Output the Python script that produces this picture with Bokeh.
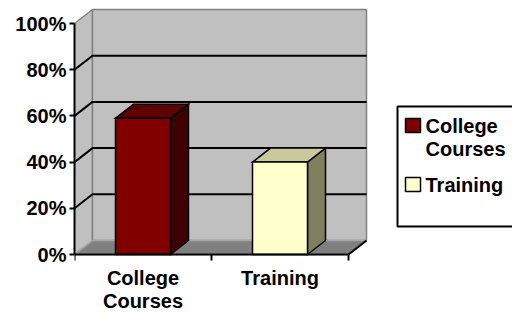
from bokeh.plotting import figure
from bokeh.models import Range1d, FixedTicker
from bokeh.core.properties import value
from bokeh.embed import file_html
from bokeh.resources import INLINE

# ---- data ----
categories = ["College\nCourses", "Training"]
values = [59, 40]
front_colors = ["#800000", "#ffffcc"]
top_colors = ["#5e0000", "#c9c99d"]
side_colors = ["#3e0000", "#80805f"]
y_ticks = [0, 20, 40, 60, 80, 100]
y_tick_labels = ["0%", "20%", "40%", "60%", "80%", "100%"]
legend_labels = ["College\nCourses", "Training"]

# ---- layout constants (pixels) ----
W, H = 512, 313
LEFT = 74          # frame left inside the figure
PX_X = 137.0       # pixels per category
PX_Y = 2.31        # pixels per percent
BASE_PX = 254      # distance figure top -> 0% line
FONT = value("Liberation Sans")
FS = "20px"


def dx(px):
    return px / PX_X


def dy(px):
    return px / PX_Y


def X(img_px):
    return (img_px - LEFT) / PX_X


def Y(img_py):
    return (BASE_PX - img_py) / PX_Y


p = figure(width=W, height=H,
           x_range=Range1d(0, (W - LEFT) / PX_X),
           y_range=Range1d(-(H - BASE_PX) / PX_Y, BASE_PX / PX_Y),
           output_backend="svg", toolbar_location=None,
           x_axis_location=None,
           min_border_left=LEFT, min_border_right=0,
           min_border_top=0, min_border_bottom=0)
p.outline_line_color = None
p.xgrid.visible = False
p.ygrid.visible = False
p.background_fill_color = "white"

n = len(categories)
top = y_ticks[-1]
DW, DH = dx(18), dy(14)

# walls and floor
p.patch([0, 0, DW, DW], [0, top, top + DH, DH],
        fill_color="#c0c0c0", line_color="#808080", line_width=1.5)
p.patch([DW, n + DW, n + DW, DW], [DH, DH, top + DH, top + DH],
        fill_color="#c0c0c0", line_color="#808080", line_width=1.5)
p.patch([0, n, n + DW, DW], [0, 0, DH, DH],
        fill_color="#808080", line_color="#a8a8a8", line_width=1.5)

# gridlines
gx, gy = [], []
for t in y_ticks[1:-1]:
    gx.append([0, DW, n + DW])
    gy.append([t, t + DH, t + DH])
p.multi_line(gx, gy, line_color="black", line_width=2)
p.segment(x0=[n], y0=[0], x1=[n + DW], y1=[DH], line_color="black", line_width=2)

# bars
hw = dx(27.5)
for i, v in enumerate(values):
    c = i + 0.5
    p.patch([c + hw, c + hw + DW, c + hw + DW, c + hw], [0, DH, v + DH, v],
            fill_color=side_colors[i], line_color="black", line_width=1.5, line_join="miter")
    p.patch([c - hw, c + hw, c + hw + DW, c - hw + DW], [v, v, v + DH, v + DH],
            fill_color=top_colors[i], line_color="black", line_width=1.5, line_join="miter")
    p.patch([c - hw, c + hw, c + hw, c - hw], [0, 0, v, v],
            fill_color=front_colors[i], line_color="black", line_width=1.5, line_join="miter")

# category axis
p.segment(x0=[0], y0=[0], x1=[n], y1=[0], line_color="black", line_width=2)
tx = list(range(n + 1))
p.segment(x0=tx, y0=[0] * len(tx), x1=tx, y1=[-dy(6)] * len(tx),
          line_color="black", line_width=2)

cx, cy, ct, co = [], [], [], []
for i, lab in enumerate(categories):
    for j, line in enumerate(lab.split("\n")):
        cx.append(i + 0.5)
        cy.append(0)
        ct.append(line)
        co.append(23 + 23 * j)
p.text(x=cx, y=cy, text=ct, y_offset=co, text_align="center", text_baseline="middle",
       text_font=FONT, text_font_style="bold", text_font_size=FS, text_color="black")

# value axis
ax = p.yaxis[0]
ax.ticker = FixedTicker(ticks=y_ticks)
ax.major_label_overrides = {t: l for t, l in zip(y_ticks, y_tick_labels)}
ax.bounds = (y_ticks[0], y_ticks[-1])
ax.axis_line_width = 2
ax.axis_line_color = "black"
ax.major_tick_line_width = 2
ax.major_tick_line_color = "black"
ax.major_tick_out = 5
ax.major_tick_in = 0
ax.minor_tick_line_color = None
ax.major_label_standoff = 3
ax.major_label_text_font = "Liberation Sans"
ax.major_label_text_font_style = "bold"
ax.major_label_text_font_size = FS
ax.major_label_text_color = "black"

# legend
p.quad(left=[X(397)], right=[X(530)], top=[Y(106)], bottom=[Y(226)],
       fill_color="white", line_color="black", line_width=2)
item_y = [125, 184]
lx, ly, lt = [], [], []
for k, lab in enumerate(legend_labels):
    p.quad(left=[X(405)], right=[X(420)], top=[Y(item_y[k] - 7)], bottom=[Y(item_y[k] + 7)],
           fill_color=front_colors[k], line_color="black", line_width=1.5)
    for j, line in enumerate(lab.split("\n")):
        lx.append(X(425))
        ly.append(Y(item_y[k] + 23 * j))
        lt.append(line)
p.text(x=lx, y=ly, text=lt, text_align="left", text_baseline="middle",
       text_font=FONT, text_font_style="bold", text_font_size=FS, text_color="black")

open("out.html", "w").write(file_html(p, INLINE))
